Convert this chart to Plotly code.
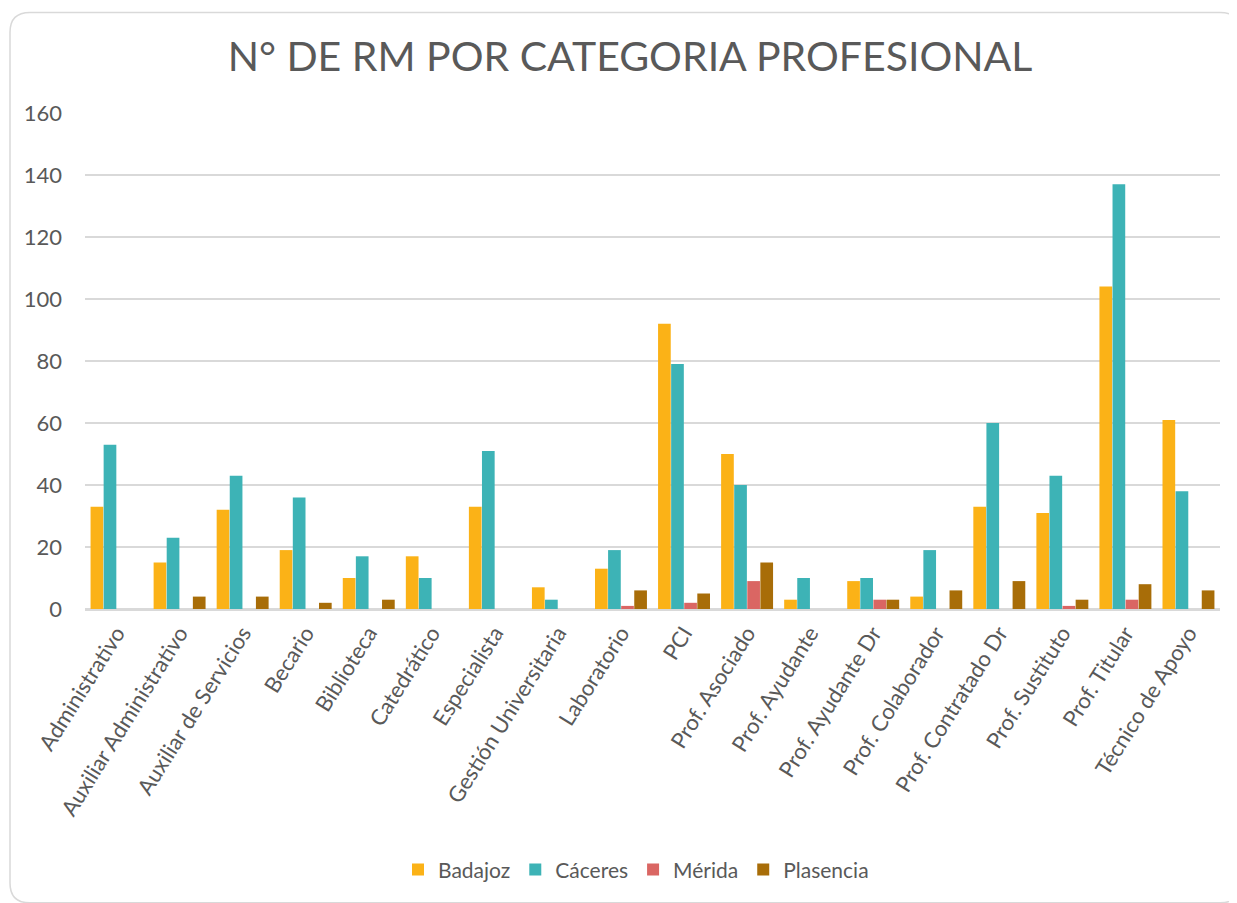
import plotly.graph_objects as go

categories = ["Administrativo", "Auxiliar Administrativo", "Auxiliar de Servicios", "Becario",
              "Biblioteca", "Catedrático", "Especialista", "Gestión Universitaria", "Laboratorio",
              "PCI", "Prof. Asociado", "Prof. Ayudante", "Prof. Ayudante Dr", "Prof. Colaborador",
              "Prof. Contratado Dr", "Prof. Sustituto", "Prof. Titular", "Técnico de Apoyo"]

badajoz   = [33, 15, 32, 19, 10, 17, 33, 7, 13, 92, 50, 3, 9, 4, 33, 31, 104, 61]
caceres   = [53, 23, 43, 36, 17, 10, 51, 3, 19, 79, 40, 10, 10, 19, 60, 43, 137, 38]
merida    = [None, None, None, None, None, None, None, None, 1, 2, 9, None, 3, None, None, 1, 3, None]
plasencia = [None, 4, 4, 2, 3, None, None, None, 6, 5, 15, None, 3, 6, 9, 3, 8, 6]

series = [("Badajoz", badajoz, "#FBB217"),
          ("Cáceres", caceres, "#3DB3B6"),
          ("Mérida", merida, "#DA6663"),
          ("Plasencia", plasencia, "#A86D08")]

y_ticks = [0, 20, 40, 60, 80, 100, 120, 140, 160]

FONT = "Lato, 'Open Sans', sans-serif"
TXT = "#595959"

fig = go.Figure()
for name, vals, col in series:
    fig.add_trace(go.Bar(name=name, x=categories, y=vals, marker=dict(color=col, line=dict(width=0))))

OFF = 8  # page body margin
W, H = 1237 - OFF, 903 - OFF
PL, PR, PT, PB = 85, 1220, 113, 611  # target plot box in window pixels
L, R, T = PL - OFF, W - (PR - OFF), PT - OFF
B = H - (PB - OFF)
pw, ph = W - L - R, H - T - B

def px(x):
    return (x - OFF - L) / pw

def py(y):
    return (PB - y) / ph

# rounded card border
x0, y0, x1, y1, r = 10, 12, 1240, 906, 20
path = (f"M {px(x0 + r)},{py(y0)} L {px(x1 - r)},{py(y0)} "
        f"Q {px(x1)},{py(y0)} {px(x1)},{py(y0 + r)} "
        f"L {px(x1)},{py(y1 - r)} Q {px(x1)},{py(y1)} {px(x1 - r)},{py(y1)} "
        f"L {px(x0 + r)},{py(y1)} Q {px(x0)},{py(y1)} {px(x0)},{py(y1 - r)} "
        f"L {px(x0)},{py(y0 + r)} Q {px(x0)},{py(y0)} {px(x0 + r)},{py(y0)} Z")

fig.update_layout(
    width=W, height=H,
    margin=dict(l=L, r=R, t=T, b=B),
    paper_bgcolor="white", plot_bgcolor="white",
    barmode="group", bargap=0.17, bargroupgap=0.03,
    font=dict(family=FONT, color=TXT, size=20),
    title=dict(text="N° DE RM POR CATEGORIA PROFESIONAL", x=(630 - OFF) / W, xref="container",
               xanchor="center", y=1 - (57 - OFF) / H, yanchor="middle",
               font=dict(size=41, color=TXT, family=FONT)),
    legend=dict(orientation="h", x=px(636), xanchor="center", y=py(873), yanchor="middle",
                font=dict(size=21, color=TXT), itemwidth=30, traceorder="normal"),
    shapes=[dict(type="path", path=path, xref="paper", yref="paper",
                 line=dict(color="#D9D9D9", width=1.5), layer="below")],
    xaxis=dict(tickangle=-58, tickfont=dict(size=22, color=TXT), showgrid=False,
               showline=False, ticks="", zeroline=False, ticklabelstandoff=6),
    yaxis=dict(range=[0, 160], tickvals=y_ticks, tickfont=dict(size=22, color=TXT),
               showgrid=True, gridcolor="#D9D9D9", gridwidth=1.5,
               zeroline=True, zerolinecolor="#D9D9D9", zerolinewidth=3,
               showline=False, ticks="", ticklabelstandoff=22),
)

fig.write_html("out.html")
